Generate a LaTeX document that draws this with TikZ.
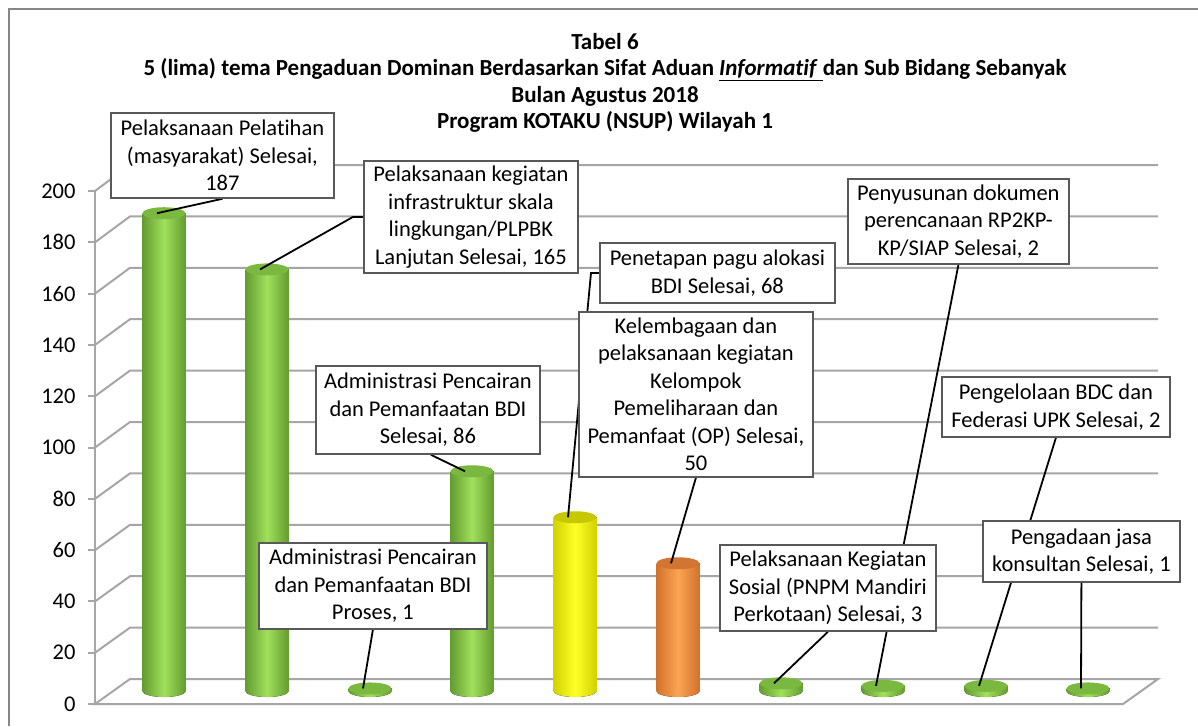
\documentclass[tikz,border=0pt]{standalone}
\usepackage{fontspec}
\setmainfont[Ligatures={NoCommon}]{Carlito}
\usetikzlibrary{positioning,calc}

\definecolor{framegray}{RGB}{134,134,134}
\definecolor{gridgray}{RGB}{166,166,166}
\definecolor{boxgray}{RGB}{89,89,89}
\definecolor{grnDk}{RGB}{100,156,48}
\definecolor{grnLt}{RGB}{160,224,92}
\definecolor{grnTop}{RGB}{122,184,64}
\definecolor{yelDk}{RGB}{210,210,0}
\definecolor{yelLt}{RGB}{255,255,40}
\definecolor{yelTop}{RGB}{200,200,0}
\definecolor{orgDk}{RGB}{210,114,42}
\definecolor{orgLt}{RGB}{252,164,84}
\definecolor{orgTop}{RGB}{210,116,50}

\pgfdeclarelayer{bg}
\pgfdeclarelayer{lead}
\pgfsetlayers{bg,lead,main}

\tikzset{
    frame/.style={
        draw=framegray,
        line width=2pt,
    },
    grid line/.style={
        draw=gridgray,
        line width=2pt,
    },
    lbl/.style={
        rectangle,
        draw=boxgray,
        line width=1.8pt,
        fill=white,
        inner sep=0pt,
        anchor=north west,
        align=center,
        font=\fontsize{22.5}{27.5}\selectfont,
    },
    ticklbl/.style={
        anchor=east,
        font=\fontsize{22.5}{27}\selectfont,
    },
    title/.style={
        align=center,
        font=\bfseries\fontsize{23}{26.5}\selectfont,
    },
    leader/.style={
        draw=black,
        line width=1.8pt,
    },
}

% cylinder: name, x centre, value, colour prefix
\newcommand{\cylbar}[4]{
    \pgfmathsetmacro\bartop{691-2.555*#3}
    \fill[left color=#4Dk, right color=#4Dk, middle color=#4Lt] (#2,691) ellipse [x radius=21.5, y radius=6];
    \fill[left color=#4Dk, right color=#4Dk, middle color=#4Lt] (#2-21.5,\bartop) rectangle (#2+21.5,691);
    \fill[#4Top] (#2,\bartop) ellipse [x radius=21.5, y radius=6];
    \coordinate (#1) at (#2-7,\bartop);
}

\begin{document}
\begin{tikzpicture}[x=1pt,y=-1pt]
    \useasboundingbox (0,0) rectangle (1198,726);

    \begin{pgfonlayer}{bg}
        \fill[white] (0,0) rectangle (1198,726);
        \draw[frame] (1198,9) -- (9,9) -- (9,726);

        % walls and floor
        \foreach \v in {20,40,...,200} {
            \draw[grid line] (95,704-2.565*\v) -- (130,679-2.57*\v) -- (1158,679-2.57*\v);
            \draw[grid line] (88,704-2.565*\v) -- (95,704-2.565*\v);
        }
        \draw[grid line] (95,704) -- (130,679) -- (1158,679) -- (1123,704) -- cycle;
        \draw[grid line] (88,704) -- (1123,704);
        \draw[grid line] (95,704) -- (95,191);

        % bars
        \cylbar{b1}{164}{187}{grn}
        \cylbar{b2}{267}{165}{grn}
        \cylbar{b3}{370}{1}{grn}
        \cylbar{b4}{472}{86}{grn}
        \cylbar{b5}{575}{68}{yel}
        \cylbar{b6}{678}{50}{org}
        \cylbar{b7}{781}{3}{grn}
        \cylbar{b8}{883}{2}{grn}
        \cylbar{b9}{986}{2}{grn}
        \cylbar{b10}{1088}{1}{grn}
    \end{pgfonlayer}

    \foreach \v in {0,20,...,200}
        \node[ticklbl] (y\v) at (79,704-2.565*\v) {\v};

    \node[title] (ttl) at (605,83) {Tabel 6\\5 (lima) tema Pengaduan Dominan Berdasarkan Sifat Aduan \underline{\textit{Informatif }}dan Sub Bidang Sebanyak\\Bulan Agustus 2018\\Program KOTAKU (NSUP) Wilayah 1};

    \node[lbl, minimum width=223pt, minimum height=85pt] (pelatihan) at (110,112) {Pelaksanaan Pelatihan\\(masyarakat) Selesai,\\187};
    \node[lbl, minimum width=214pt, minimum height=112pt] (infra) at (363,160) {Pelaksanaan kegiatan\\infrastruktur skala\\lingkungan/PLPBK\\Lanjutan Selesai, 165};
    \node[lbl, minimum width=224pt, minimum height=88pt] (adminSel) at (315,365) {Administrasi Pencairan\\dan Pemanfaatan BDI\\Selesai, 86};
    \node[lbl, minimum width=228pt, minimum height=86pt] (adminPro) at (258,542) {Administrasi Pencairan\\dan Pemanfaatan BDI\\Proses, 1};
    \node[lbl, minimum width=235pt, minimum height=60pt] (pagu) at (599,242) {Penetapan pagu alokasi\\BDI Selesai, 68};
    \node[lbl, minimum width=234pt, minimum height=165pt] (kelembagaan) at (578,311) {Kelembagaan dan\\pelaksanaan kegiatan\\Kelompok\\Pemeliharaan dan\\Pemanfaat (OP) Selesai,\\50};
    \node[lbl, minimum width=221pt, minimum height=85pt] (rp2kp) at (847,178) {Penyusunan dokumen\\perencanaan RP2KP-\\KP/SIAP Selesai, 2};
    \node[lbl, minimum width=228pt, minimum height=60pt] (bdc) at (941,376) {Pengelolaan BDC dan\\Federasi UPK Selesai, 2};
    \node[lbl, minimum width=197pt, minimum height=61pt] (jasa) at (982,520) {Pengadaan jasa\\konsultan Selesai, 1};
    \node[lbl, minimum width=216pt, minimum height=86pt] (sosial) at (719,544) {Pelaksanaan Kegiatan\\Sosial (PNPM Mandiri\\Perkotaan) Selesai, 3};

    \begin{pgfonlayer}{lead}
        \draw[leader] (pelatihan.south) -- (b1);
        \draw[leader] (infra.west) -- ++(-10,0) -- (b2);
        \draw[leader] (adminPro.south) -- (b3);
        \draw[leader] ([xshift=3pt]adminSel.south) -- (b4);
        \draw[leader] (pagu.west) -- ++(-8,0) -- (b5);
        \draw[leader] (kelembagaan.south) -- (b6);
        \draw[leader] (sosial.south) -- (b7);
        \draw[leader] (rp2kp.south) -- (b8);
        \draw[leader] (bdc.south) -- (b9);
        \draw[leader] (jasa.south) -- (b10);
    \end{pgfonlayer}
\end{tikzpicture}
\end{document}
